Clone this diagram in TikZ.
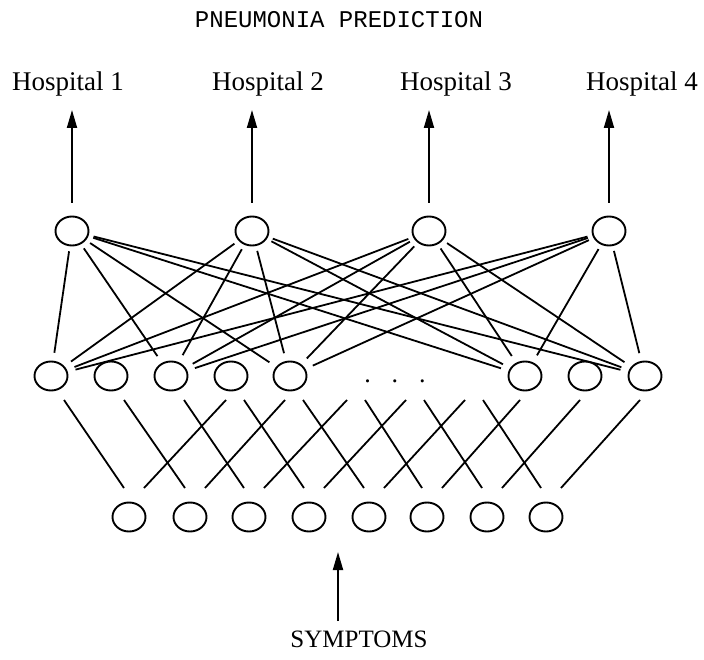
\documentclass[tikz,border=0pt]{standalone}
\usepackage{fontspec}
\setmainfont{Liberation Serif}
\newfontfamily\monofont{Liberation Mono}
\usetikzlibrary{arrows.meta,shapes.geometric,calc}

\begin{document}
\begin{tikzpicture}[x=1pt, y=-1pt, line width=1.8pt,
  unit/.style={ellipse, draw, minimum width=33pt, minimum height=29pt, inner sep=0pt, line width=1.9pt},
  link/.style={shorten <=5pt, shorten >=8pt},
  feed/.style={-{Triangle[length=18pt, width=10pt]}, line width=1.9pt},
  lbl/.style={font=\fontsize{27}{30}\selectfont, anchor=base}]
\useasboundingbox (0,0) rectangle (704,660);
% Title
\node[font=\monofont\fontsize{24}{28}\selectfont, anchor=base] (title) at (339,28) {PNEUMONIA PREDICTION};
% Output labels
\node[lbl] (lab1) at (68,91) {Hospital 1};
\node[lbl] (lab2) at (268,91) {Hospital 2};
\node[lbl] (lab3) at (456,91) {Hospital 3};
\node[lbl] (lab4) at (642,91) {Hospital 4};
% Output units
\node[unit] (o1) at (72,231) {};
\node[unit] (o2) at (252,231) {};
\node[unit] (o3) at (429,231) {};
\node[unit] (o4) at (609,231) {};
% Hidden units
\node[unit] (h1) at (51,376) {};
\node[unit] (h2) at (111,376) {};
\node[unit] (h3) at (171,376) {};
\node[unit] (h4) at (231,376) {};
\node[unit] (h5) at (290,376) {};
\node[font=\fontsize{26}{30}\selectfont, anchor=base] (dots) at (395,382.5) {.\hspace{21pt}.\hspace{21pt}.};
\node[unit] (h6) at (525,376) {};
\node[unit] (h7) at (585,376) {};
\node[unit] (h8) at (645,376) {};
\coordinate (v1) at (352,376);
\coordinate (v2) at (411,376);
\coordinate (v3) at (470,376);
% Input units
\node[unit] (in1) at (129,517) {};
\node[unit] (in2) at (190,517) {};
\node[unit] (in3) at (249,517) {};
\node[unit] (in4) at (309,517) {};
\node[unit] (in5) at (369,517) {};
\node[unit] (in6) at (427,517) {};
\node[unit] (in7) at (487,517) {};
\node[unit] (in8) at (546,517) {};
\node[lbl, font=\fontsize{25}{30}\selectfont] (sym) at (359,647) {SYMPTOMS};
% Arrows
\coordinate (tip1) at (72,110);
\coordinate (tip2) at (252,110);
\coordinate (tip3) at (429,110);
\coordinate (tip4) at (609,110);
\coordinate (tip0) at (338,552);
\draw[feed, shorten <=13pt] (o1) -- (tip1);
\draw[feed, shorten <=13pt] (o2) -- (tip2);
\draw[feed, shorten <=13pt] (o3) -- (tip3);
\draw[feed, shorten <=13pt] (o4) -- (tip4);
\draw[feed, shorten <=5pt] (sym.north -| tip0) -- (tip0);
% Output to hidden
\draw[link] (o1) -- (h1); \draw[link] (o1) -- (h3); \draw[link] (o1) -- (h5); \draw[link] (o1) -- (h6); \draw[link] (o1) -- (h8);
\draw[link] (o2) -- (h1); \draw[link] (o2) -- (h3); \draw[link] (o2) -- (h5); \draw[link] (o2) -- (h6); \draw[link] (o2) -- (h8);
\draw[link] (o3) -- (h1); \draw[link] (o3) -- (h3); \draw[link] (o3) -- (h5); \draw[link] (o3) -- (h6); \draw[link] (o3) -- (h8);
\draw[link] (o4) -- (h1); \draw[link] (o4) -- (h3); \draw[link] (o4) -- (h5); \draw[link] (o4) -- (h6); \draw[link] (o4) -- (h8);
% Hidden to input
\draw ($(h1)+(13,24)$) -- ($(in1)+(-5,-29)$);
\draw ($(h2)+(13,24)$) -- ($(in2)+(-5,-29)$);
\draw ($(h3)+(13,24)$) -- ($(in3)+(-5,-29)$);
\draw ($(h4)+(13,24)$) -- ($(in4)+(-5,-29)$);
\draw ($(h5)+(13,24)$) -- ($(in5)+(-5,-29)$);
\draw ($(v1)+(13,24)$) -- ($(in6)+(-5,-29)$);
\draw ($(v2)+(13,24)$) -- ($(in7)+(-5,-29)$);
\draw ($(v3)+(13,24)$) -- ($(in8)+(-5,-29)$);
\draw ($(h4)+(-5,24)$) -- ($(in1)+(15,-29)$);
\draw ($(h5)+(-5,24)$) -- ($(in2)+(15,-29)$);
\draw ($(v1)+(-5,24)$) -- ($(in3)+(15,-29)$);
\draw ($(v2)+(-5,24)$) -- ($(in4)+(15,-29)$);
\draw ($(v3)+(-5,24)$) -- ($(in5)+(15,-29)$);
\draw ($(h6)+(-5,24)$) -- ($(in6)+(15,-29)$);
\draw ($(h7)+(-5,24)$) -- ($(in7)+(15,-29)$);
\draw ($(h8)+(-5,24)$) -- ($(in8)+(15,-29)$);
\end{tikzpicture}
\end{document}
